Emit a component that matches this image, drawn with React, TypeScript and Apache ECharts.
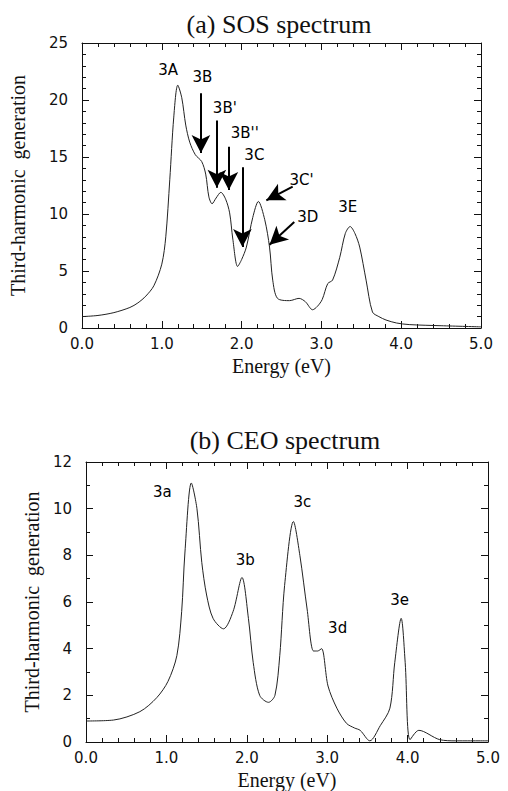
import React, { useEffect, useRef } from "react";
import * as echarts from "echarts";

const sosEnergy = [0, 0.2, 0.4, 0.6, 0.7, 0.8, 0.9, 1.0, 1.05, 1.1, 1.15, 1.2, 1.25, 1.3, 1.35, 1.42, 1.5, 1.55, 1.59, 1.63, 1.68, 1.74, 1.8, 1.85, 1.89, 1.95, 2.0, 2.06, 2.14, 2.21, 2.29, 2.35, 2.39, 2.45, 2.6, 2.72, 2.8, 2.89, 2.95, 3.01, 3.08, 3.14, 3.23, 3.3, 3.36, 3.42, 3.48, 3.56, 3.64, 3.72, 3.81, 3.94, 4.1, 4.5, 5.0];
const sosValue = [1.0, 1.1, 1.35, 1.8, 2.2, 2.8, 3.7, 5.6, 8, 13, 18.5, 21.3, 20.2, 17.8, 16.3, 15.2, 14.6, 13.5, 11.5, 10.9, 11.4, 11.9, 11.3, 10.1, 7.8, 5.4, 6.0, 7.1, 9.7, 11.1, 9.5, 7.1, 4.2, 2.6, 2.4, 2.6, 2.3, 1.6, 1.9, 2.5, 3.9, 4.2, 6.2, 8.3, 8.9, 8.3, 7.1, 4.2, 1.4, 1.0, 0.7, 0.44, 0.3, 0.2, 0.1];

const ceoEnergy = [0, 0.34, 0.67, 0.88, 1.02, 1.13, 1.19, 1.23, 1.31, 1.38, 1.44, 1.5, 1.58, 1.71, 1.83, 1.94, 2.02, 2.08, 2.16, 2.27, 2.35, 2.41, 2.47, 2.58, 2.66, 2.75, 2.83, 2.88, 2.93, 3.01, 3.12, 3.24, 3.34, 3.41, 3.53, 3.66, 3.78, 3.84, 3.92, 3.97, 4.03, 4.14, 4.4, 4.6, 5.0];
const ceoValue = [0.9, 0.94, 1.3, 1.9, 2.6, 3.7, 5.6, 8.1, 11.1, 10.0, 7.7, 6.3, 5.3, 4.85, 5.6, 7.05, 5.3, 3.4, 2.0, 1.7, 2.0, 3.7, 6.7, 9.45, 8.0, 5.7, 3.9, 3.9, 4.0, 2.4, 1.45, 0.8, 0.6, 0.5, 0.05, 0.7, 1.45, 3.4, 5.3, 3.4, 0.1, 0.5, 0.1, 0.05, 0.05];

const xTicks = [0, 1, 2, 3, 4, 5];
const sosYTicks = [0, 5, 10, 15, 20, 25];
const ceoYTicks = [0, 2, 4, 6, 8, 10, 12];

const sosLabels = ["3A", "3B", "3B'", "3B''", "3C", "3C'", "3D", "3E"];
const sosLabelE = [1.08, 1.51, 1.79, 2.04, 2.16, 2.75, 2.83, 3.33];
const sosLabelV = [22.6, 22.0, 19.3, 17.1, 15.2, 13.0, 9.7, 10.6];

// arrows: start (E,V) -> tip (E,V)
const sosArrowFromE = [1.49, 1.69, 1.84, 2.01, 2.64, 2.66];
const sosArrowFromV = [20.6, 18.2, 15.9, 14.1, 12.4, 9.3];
const sosArrowToE = [1.49, 1.69, 1.84, 2.01, 2.31, 2.35];
const sosArrowToV = [15.35, 12.3, 12.1, 7.1, 11.2, 7.3];

const ceoLabels = ["3a", "3b", "3c", "3d", "3e"];
const ceoLabelE = [0.95, 1.98, 2.69, 3.13, 3.9];
const ceoLabelV = [10.7, 7.8, 10.3, 4.9, 6.1];

const SANS = "DejaVu Sans";
const SERIF = "Liberation Serif";

function zip(a: number[], b: number[]) {
  return a.map((v, i) => [v, b[i]]);
}

function xAxes(gridIndex: number, showName: boolean) {
  const common = {
    type: "value",
    gridIndex,
    min: 0,
    max: 5,
    interval: 1,
    splitLine: { show: false },
    axisLine: { show: true, onZero: false, lineStyle: { color: "#111", width: 1 } },
    axisTick: { show: true, inside: true, length: 7, lineStyle: { color: "#111" } },
    minorTick: { show: true, splitNumber: 5, length: 4, lineStyle: { color: "#111" } },
    minorSplitLine: { show: false },
  };
  return [
    {
      ...common,
      position: "bottom",
      name: showName ? "Energy (eV)" : "",
      nameLocation: "middle",
      nameGap: 28,
      nameTextStyle: { fontFamily: SERIF, fontSize: 20, color: "#111" },
      axisLabel: {
        show: true,
        margin: 8,
        fontFamily: SANS,
        fontSize: 15,
        color: "#111",
        formatter: (v: number) => (xTicks.includes(v) ? v.toFixed(1) : ""),
      },
    },
    { ...common, position: "top", axisLabel: { show: false } },
  ];
}

function yAxes(gridIndex: number, max: number, interval: number, minorSplit: number, ticks: number[], nameGap: number) {
  const common = {
    type: "value",
    gridIndex,
    min: 0,
    max,
    interval,
    splitLine: { show: false },
    axisLine: { show: true, onZero: false, lineStyle: { color: "#111", width: 1 } },
    axisTick: { show: true, inside: true, length: 7, lineStyle: { color: "#111" } },
    minorTick: { show: true, splitNumber: minorSplit, length: 4, lineStyle: { color: "#111" } },
  };
  return [
    {
      ...common,
      position: "left",
      name: "Third-harmonic  generation",
      nameLocation: "middle",
      nameGap,
      nameTextStyle: { fontFamily: SERIF, fontSize: 20, color: "#111" },
      axisLabel: {
        show: true,
        margin: 14,
        fontFamily: SANS,
        fontSize: 15,
        color: "#111",
        formatter: (v: number) => (ticks.includes(v) ? String(v) : ""),
      },
    },
    { ...common, position: "right", axisLabel: { show: false } },
  ];
}

function arrowData(fe: number[], fv: number[], te: number[], tv: number[]) {
  return fe.map((e, i) => [{ coord: [e, fv[i]] }, { coord: [te[i], tv[i]] }]);
}

function labelSeries(xi: number, yi: number, names: string[], es: number[], vs: number[]) {
  return {
    type: "scatter",
    xAxisIndex: xi,
    yAxisIndex: yi,
    symbol: "circle",
    symbolSize: 0,
    itemStyle: { color: "#000", opacity: 1 },
    silent: true,
    data: names.map((n, i) => ({ value: [es[i], vs[i]], name: n })),
    label: {
      show: true,
      position: "inside",
      formatter: (p: any) => p.name,
      fontFamily: SANS,
      fontSize: 15,
      color: "#000",
      opacity: 1,
      textBorderWidth: 0,
    },
  };
}

export default function App() {
  const ref = useRef<HTMLDivElement>(null);
  useEffect(() => {
    if (!ref.current) return;
    const chart = echarts.init(ref.current, null, { renderer: "svg" });
    chart.setOption({
      animation: false,
      backgroundColor: "#fff",
      grid: [
        { left: 82, top: 43, width: 399, height: 285 },
        { left: 86, top: 462, width: 402, height: 282 },
      ],
      xAxis: [...xAxes(0, true), ...xAxes(1, true)],
      yAxis: [...yAxes(0, 25, 5, 5, sosYTicks, 54), ...yAxes(1, 12, 2, 2, ceoYTicks, 43)],
      graphic: [
        {
          type: "text",
          x: 279,
          y: 24,
          style: { text: "(a) SOS spectrum", font: `26px "${SERIF}"`, fill: "#111", textAlign: "center", textVerticalAlign: "middle" },
        },
        {
          type: "text",
          x: 285,
          y: 440,
          style: { text: "(b) CEO spectrum", font: `26px "${SERIF}"`, fill: "#111", textAlign: "center", textVerticalAlign: "middle" },
        },
      ],
      series: [
        {
          type: "line",
          xAxisIndex: 0,
          yAxisIndex: 0,
          data: zip(sosEnergy, sosValue),
          smooth: 0.3,
          showSymbol: false,
          lineStyle: { color: "#222", width: 1 },
          markLine: {
            silent: true,
            symbol: ["none", "arrow"],
            symbolSize: [14, 18],
            label: { show: false },
            lineStyle: { color: "#000", width: 2, type: "solid" },
            data: arrowData(sosArrowFromE, sosArrowFromV, sosArrowToE, sosArrowToV),
          },
        },
        labelSeries(0, 0, sosLabels, sosLabelE, sosLabelV),
        {
          type: "line",
          xAxisIndex: 2,
          yAxisIndex: 2,
          data: zip(ceoEnergy, ceoValue),
          smooth: 0.3,
          showSymbol: false,
          lineStyle: { color: "#222", width: 1 },
        },
        labelSeries(2, 2, ceoLabels, ceoLabelE, ceoLabelV),
      ],
    });
    return () => chart.dispose();
  }, []);
  return (
    <div
      ref={ref}
      style={{ position: "absolute", left: 0, top: 0, width: 508, height: 791 }}
    />
  );
}
